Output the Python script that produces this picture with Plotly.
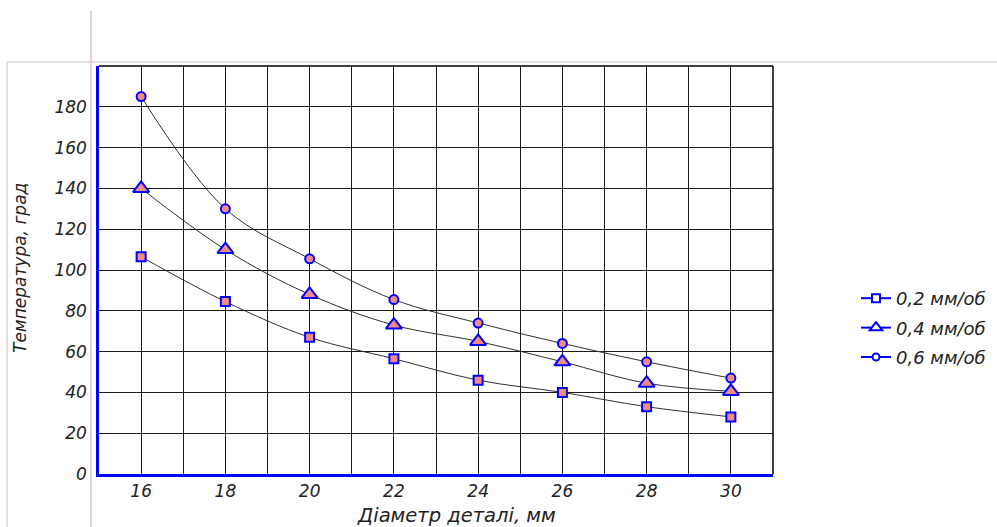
import plotly.graph_objects as go

diam = [16, 18, 20, 22, 24, 26, 28, 30]
s02 = [106.5, 84.5, 67, 56.5, 46, 40, 33, 28]
s04 = [140, 110, 88, 73, 65, 55, 44.5, 40.5]
s06 = [185, 130, 105.5, 85.5, 74, 64, 55, 47]
names = ["0,2 мм/об", "0,4 мм/об", "0,6 мм/об"]
series = [s02, s04, s06]
yticks = [0, 20, 40, 60, 80, 100, 120, 140, 160, 180]
symbols = ["square", "triangle-up", "circle"]
sizes = [9, 14, 9]
leg_sizes = [8, 11, 7]

FONT = "DejaVu Sans, Verdana, sans-serif"
BLUE = "#0000ff"
PINK = "#f28b82"

fig = go.Figure()
for i, (nm, ys) in enumerate(zip(names, series)):
    fig.add_trace(go.Scatter(
        x=diam, y=ys, mode="lines+markers", showlegend=False,
        line=dict(color="#303030", width=1, shape="spline", smoothing=1.0),
        marker=dict(symbol=symbols[i], size=sizes[i], color=PINK,
                    line=dict(color=BLUE, width=2)),
    ))
for i, nm in enumerate(names):
    fig.add_trace(go.Scatter(
        x=[None], y=[None], mode="lines+markers", name=nm,
        legendgroup=nm,
        line=dict(color=BLUE, width=2),
        marker=dict(symbol=symbols[i], size=leg_sizes[i], color="white",
                    line=dict(color=BLUE, width=2)),
    ))

W, H = 997, 527
L, R, T, B = 99, 773, 66, 474
pw, ph = R - L, B - T
def px(x):
    return (x - L) / pw
def py(y):
    return (B - y) / ph

shapes = [
    dict(type="rect", xref="paper", yref="paper", x0=px(7), x1=px(1100),
         y0=py(700), y1=py(62), line=dict(color="#e2e2e2", width=2), layer="below"),
    dict(type="line", xref="paper", yref="paper", x0=px(91), x1=px(91),
         y0=py(11), y1=py(600), line=dict(color="#e3bccb", width=1.5), layer="below"),
    dict(type="line", xref="paper", yref="paper", x0=0, x1=1, y0=1, y1=1,
         line=dict(color="black", width=1.5)),
    dict(type="line", xref="paper", yref="paper", x0=1, x1=1, y0=0, y1=1,
         line=dict(color="black", width=1.5)),
]

tickfont = dict(family=FONT, size=17, color="#222", style="italic")

fig.update_layout(
    width=W, height=H,
    margin=dict(l=L, r=W - R, t=T, b=H - B, autoexpand=False),
    paper_bgcolor="white", plot_bgcolor="white",
    showlegend=True,
    legend=dict(x=px(856), y=py(280), xanchor="left", yanchor="top",
                font=dict(family=FONT, size=18, color="#222", style="italic"),
                itemwidth=30, tracegroupgap=3, traceorder="grouped",
                bgcolor="rgba(0,0,0,0)"),
    shapes=shapes,
    xaxis=dict(range=[15, 31], tick0=16, dtick=2, showgrid=True,
               gridcolor="#1a1a1a", gridwidth=1,
               minor=dict(dtick=1, showgrid=True, gridcolor="#1a1a1a", gridwidth=1),
               showline=True, linecolor=BLUE, linewidth=2.5,
               ticks="", ticklabelstandoff=0, tickfont=tickfont, zeroline=False),
    yaxis=dict(range=[0, 200], tickvals=yticks, showgrid=True,
               gridcolor="#1a1a1a", gridwidth=1,
               showline=True, linecolor=BLUE, linewidth=2.5,
               ticks="", ticklabelstandoff=6, tickfont=tickfont, zeroline=False),
    annotations=[
        dict(text="Діаметр деталі, мм", xref="paper", yref="paper",
             x=px(456), y=py(515), xanchor="center", yanchor="middle",
             showarrow=False,
             font=dict(family=FONT, size=19.5, color="#222", style="italic")),
        dict(text="Температура, град", xref="paper", yref="paper",
             x=px(20), y=py(268), xanchor="center", yanchor="middle",
             textangle=-90, showarrow=False,
             font=dict(family=FONT, size=17, color="#222", style="italic")),
    ],
)

fig.write_html("out.html")
